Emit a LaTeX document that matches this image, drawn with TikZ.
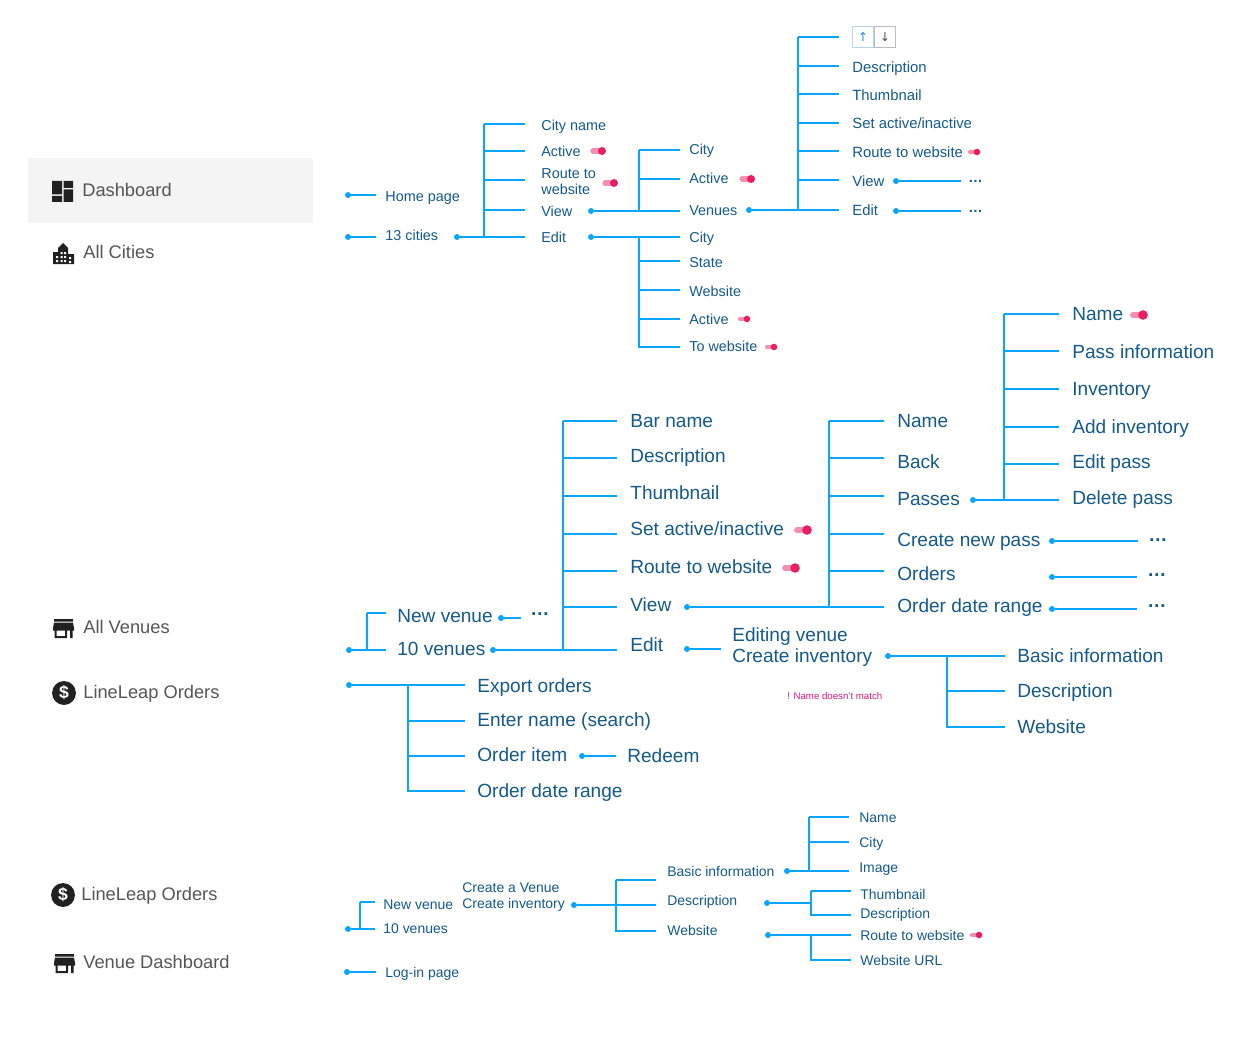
\documentclass[tikz,border=0pt]{standalone}
\usepackage{fontspec}
\setmainfont{Liberation Sans}
\newfontfamily\symfont{DejaVu Sans}
\usetikzlibrary{calc}
\definecolor{MapWire}{HTML}{08A5FC}
\definecolor{MapText}{HTML}{14598A}
\definecolor{MapKnob}{HTML}{E91E63}
\definecolor{MapTrack}{HTML}{F58FB0}
\definecolor{MapNote}{HTML}{D81B7A}
\definecolor{MenuText}{HTML}{555555}
\definecolor{MenuIcon}{HTML}{212121}
\definecolor{MenuPanel}{HTML}{F4F4F4}
\definecolor{BtnBlue}{HTML}{B5D3F2}
\definecolor{BtnGrey}{HTML}{BDBDBD}
\definecolor{BtnArrow}{HTML}{2E8AE6}

\begin{document}
\begin{tikzpicture}[x=0.02cm,y=-0.02cm]
    \tikzset{
      wire/.style={draw=MapWire,line width=0.9pt},
      tie/.style={wire,shorten >=#1*0.02cm},
      linkdot/.style={circle,fill=MapWire,inner sep=0pt,minimum size=3.4pt},
      maptext/.style={anchor=west,inner sep=0pt,text=MapText},
      smalltext/.style={maptext,text height=0.8em,text depth=0.14em,font=\fontsize{8.2}{10}\selectfont},
      toptext/.style={maptext,text height=0.8em,text depth=0.14em,font=\fontsize{8.45}{10}\selectfont},
      lowtext/.style={maptext,text height=0.8em,text depth=0.14em,font=\fontsize{7.95}{10}\selectfont},
      bigtext/.style={maptext,text height=0.9em,text depth=0.12em,font=\fontsize{10.85}{13}\selectfont},
      moresmall/.style={maptext,text height=0.8em,text depth=0.14em,font=\fontsize{8.2}{10}\selectfont\bfseries},
      morebig/.style={maptext,text height=0.9em,text depth=0.12em,font=\fontsize{10.85}{13}\selectfont\bfseries},
      notetext/.style={anchor=west,inner sep=0pt,text=MapNote,font=\fontsize{5.5}{7}\selectfont},
      menutext/.style={anchor=west,inner sep=0pt,text=MenuText,text height=0.85em,text depth=0.11em,font=\fontsize{10.4}{12}\selectfont},
      moneyicon/.style={circle,fill=MenuIcon,text=white,inner sep=0pt,minimum size=13.6pt,font=\fontsize{10}{10}\selectfont\bfseries},
      arrowbtn/.style={anchor=west,rectangle,inner sep=0pt,minimum width=12pt,minimum height=12pt,line width=0.5pt,font=\fontsize{7}{7}\symfont},
      togglebig/.pic={\draw[MapTrack,line width=3.4pt,line cap=round] (-10,0)--(0,0);\fill[MapKnob] (0,0) circle[radius=4.8];},
      togglemid/.pic={\draw[MapTrack,line width=3pt,line cap=round] (-9,0)--(0,0);\fill[MapKnob] (0,0) circle[radius=4];},
      togglesmall/.pic={\draw[MapTrack,line width=2.4pt,line cap=round] (-7,0)--(0,0);\fill[MapKnob] (0,0) circle[radius=3.3];},
      dashpic/.pic={\fill[MenuIcon] (0,0) rectangle (10,13.5) (0,15) rectangle (10,21) (11.5,0) rectangle (21,7) (11.5,8.5) rectangle (21,21);},
      citypic/.pic={\fill[MenuIcon] (0,21) -- (0,9) -- (5,9) -- (5,5) -- (10,0) -- (15,5) -- (15,11) -- (21,11) -- (21,21) -- cycle;
        \fill[white] (3,13) rectangle (5,15) (3,17) rectangle (5,19) (7.5,9) rectangle (9.5,11) (11,9) rectangle (13,11)
          (7.5,13) rectangle (9.5,15) (11,13) rectangle (13,15) (7.5,17) rectangle (9.5,19) (11,17) rectangle (13,19) (16,14) rectangle (18,16) (16,18) rectangle (18,20);},
      storepic/.pic={\fill[MenuIcon] (1,0) rectangle (20,2.5) (1,3.5) -- (20,3.5) -- (21,9) -- (21,11.5) -- (0,11.5) -- (0,9) -- cycle
        (1.5,11.5) rectangle (3.5,19) (3.5,17) rectangle (12,19) (12,11.5) rectangle (14,19) (17,11.5) rectangle (19.5,19);}
    }
    \useasboundingbox (0,0) rectangle (1250,1037);

    \fill[MenuPanel] (28,158) rectangle (313,223);
    \pic at (52,181) {dashpic};
    \node[menutext] (dashboard) at (82,190) {Dashboard};
    \pic at (53,243) {citypic};
    \node[menutext] (allcities) at (83,252) {All Cities};
    \pic at (53,619) {storepic};
    \node[menutext] (allvenues) at (83,627) {All Venues};
    \node[moneyicon] (moneya) at (64,693) {\$};
    \node[menutext] (ordersa) at (83,692) {LineLeap Orders};
    \node[moneyicon] (moneyb) at (63,895) {\$};
    \node[menutext] (ordersb) at (81,894) {LineLeap Orders};
    \pic at (54,954) {storepic};
    \node[menutext] (venuedash) at (83,962) {Venue Dashboard};

    \node[linkdot] (dhome) at (348,195) {};
    \node[smalltext] (home) at (385,196) {Home page};
    \node[linkdot] (dcities) at (348,237) {};
    \node[smalltext] (cities) at (385,235) {13 cities};
    \node[linkdot] (dcitiesr) at (457,237) {};
    \draw[tie=9] (dhome) -- (dhome -| home.west);
    \draw[tie=9] (dcities) -- (dcities -| cities.west);

    \coordinate (busa) at (484,124);
    \node[smalltext] (cityname) at (541,125) {City name};
    \node[smalltext] (activea) at (541,151) {Active};
    \node[smalltext] (routea) at (541,173) {Route to};
    \node[smalltext] (routeb) at (541,189) {website};
    \node[smalltext] (viewa) at (541,211) {View};
    \node[smalltext] (edita) at (541,237) {Edit};
    \pic at (602,151) {togglemid};
    \pic at (614,183) {togglemid};
    \draw[tie=16] (busa) |- ($(cityname.west)+(0,-1)$);
    \draw[tie=16] (busa) |- (activea.west);
    \draw[tie=16] (busa) |- ($(routeb.west)+(0,-9)$);
    \draw[tie=16] (busa) |- ($(viewa.west)+(0,-1)$);
    \draw[wire] (busa) -- (busa |- dcitiesr);
    \draw[tie=16] (dcitiesr) -- (dcitiesr -| edita.west);

    \node[linkdot] (dviewa) at (591,211) {};
    \node[linkdot] (dedita) at (591,237) {};
    \coordinate (busb) at (639,150);
    \node[smalltext] (cityb) at (689,149) {City};
    \node[smalltext] (activeb) at (689,178) {Active};
    \node[smalltext] (venuesa) at (689,210) {Venues};
    \pic at (751,179) {togglemid};
    \draw[tie=9] (busb) |- ($(cityb.west)+(0,1)$);
    \draw[tie=9] (busb) |- ($(activeb.west)+(0,1)$);
    \draw[wire] (busb) -- (busb |- dviewa);
    \draw[tie=9] (dviewa) -- (dviewa -| venuesa.west);

    \coordinate (busc) at (639,237);
    \node[smalltext] (cityc) at (689,237) {City};
    \node[smalltext] (statec) at (689,262) {State};
    \node[smalltext] (sitec) at (689,291) {Website};
    \node[smalltext] (activec) at (689,319) {Active};
    \node[smalltext] (tosite) at (689,346) {To website};
    \pic at (747,319) {togglesmall};
    \pic at (774,347) {togglesmall};
    \draw[tie=9] (dedita) -- (dedita -| cityc.west);
    \draw[tie=9] (busc) |- ($(statec.west)+(0,-1)$);
    \draw[tie=9] (busc) |- ($(sitec.west)+(0,-1)$);
    \draw[tie=9] (busc) |- (activec.west);
    \draw[tie=9] (busc) |- ($(tosite.west)+(0,1)$);

    \node[linkdot] (dvenues) at (749,210) {};
    \coordinate (busd) at (798,37);
    \node[arrowbtn,draw=BtnBlue,text=BtnArrow] (btnup) at (852,37) {↑};
    \node[arrowbtn,draw=BtnGrey,text=MenuText] (btndown) at (btnup.east) {↓};
    \node[toptext] (descd) at (852,67) {Description};
    \node[toptext] (thumbd) at (852,95) {Thumbnail};
    \node[toptext] (setd) at (852,123) {Set active/inactive};
    \node[toptext] (routed) at (852,152) {Route to website};
    \node[toptext] (viewd) at (852,181) {View};
    \node[toptext] (editd) at (852,210) {Edit};
    \pic at (977,152) {togglesmall};
    \draw[tie=0] (busd) -- ($(btnup.west)+(-13,0)$);
    \draw[tie=13] (busd) |- ($(descd.west)+(0,-1)$);
    \draw[tie=13] (busd) |- ($(thumbd.west)+(0,-1)$);
    \draw[tie=13] (busd) |- (setd.west);
    \draw[tie=13] (busd) |- ($(routed.west)+(0,-1)$);
    \draw[tie=13] (busd) |- ($(viewd.west)+(0,-1)$);
    \draw[wire] (busd) -- (busd |- dvenues);
    \draw[tie=13] (dvenues) -- (dvenues -| editd.west);
    \node[linkdot] (dviewd) at (896,181) {};
    \node[linkdot] (deditd) at (896,211) {};
    \node[moresmall] (moreviewd) at (968,177) {…};
    \node[moresmall] (moreeditd) at (968,207) {…};
    \draw[tie=7] (dviewd) -- (dviewd -| moreviewd.west);
    \draw[tie=7] (deditd) -- (deditd -| moreeditd.west);

    \node[linkdot] (dvenuesl) at (349,650) {};
    \coordinate (bracka) at (367,613);
    \node[bigtext] (newvenue) at (397,616) {New venue};
    \node[bigtext] (tenvenues) at (397,649) {10 venues};
    \draw[tie=11] (bracka) -- (bracka -| newvenue.west);
    \draw[wire] (bracka) -- (bracka |- dvenuesl);
    \draw[tie=11] (dvenuesl) -- (dvenuesl -| tenvenues.west);
    \node[linkdot] (dnewvenue) at (501,618) {};
    \node[morebig] (morenew) at (530,609) {…};
    \draw[tie=9] (dnewvenue) -- (dnewvenue -| morenew.west);

    \node[linkdot] (dtenr) at (493,650) {};
    \coordinate (buse) at (563,421);
    \node[bigtext] (barname) at (630,421) {Bar name};
    \node[bigtext] (desce) at (630,456) {Description};
    \node[bigtext] (thumbe) at (630,493) {Thumbnail};
    \node[bigtext] (sete) at (630,529) {Set active/inactive};
    \node[bigtext] (routee) at (630,567) {Route to website};
    \node[bigtext] (viewe) at (630,605) {View};
    \node[bigtext] (edite) at (630,645) {Edit};
    \pic at (807,530) {togglebig};
    \pic at (795,568) {togglebig};
    \draw[tie=13] (buse) |- (barname.west);
    \draw[tie=13] (buse) |- ($(desce.west)+(0,2)$);
    \draw[tie=13] (buse) |- ($(thumbe.west)+(0,3)$);
    \draw[tie=13] (buse) |- ($(sete.west)+(0,5)$);
    \draw[tie=13] (buse) |- ($(routee.west)+(0,4)$);
    \draw[tie=13] (buse) |- ($(viewe.west)+(0,2)$);
    \draw[wire] (buse) -- (buse |- dtenr);
    \draw[tie=13] (dtenr) -- (dtenr -| edite.west);

    \node[linkdot] (dviewe) at (687,607) {};
    \node[linkdot] (dedite) at (687,649) {};
    \coordinate (busf) at (829,421);
    \node[bigtext] (namef) at (897,421) {Name};
    \node[bigtext] (backf) at (897,462) {Back};
    \node[bigtext] (passes) at (897,499) {Passes};
    \node[bigtext] (newpass) at (897,540) {Create new pass};
    \node[bigtext] (ordersf) at (897,574) {Orders};
    \node[bigtext] (rangef) at (897,606) {Order date range};
    \draw[tie=13] (busf) |- (namef.west);
    \draw[tie=13] (busf) |- ($(backf.west)+(0,-4)$);
    \draw[tie=13] (busf) |- ($(passes.west)+(0,-3)$);
    \draw[tie=13] (busf) |- ($(newpass.west)+(0,-6)$);
    \draw[tie=13] (busf) |- ($(ordersf.west)+(0,-3)$);
    \draw[wire] (busf) -- (busf |- dviewe);
    \draw[tie=13] (dviewe) -- (dviewe -| rangef.west);

    \node[linkdot] (dpasses) at (973,500) {};
    \coordinate (busg) at (1004,314);
    \node[bigtext] (nameg) at (1072,314) {Name};
    \node[bigtext] (passinfo) at (1072,352) {Pass information};
    \node[bigtext] (inventory) at (1072,389) {Inventory};
    \node[bigtext] (addinv) at (1072,427) {Add inventory};
    \node[bigtext] (editpass) at (1072,462) {Edit pass};
    \node[bigtext] (delpass) at (1072,498) {Delete pass};
    \pic at (1143,315) {togglebig};
    \draw[tie=13] (busg) |- (nameg.west);
    \draw[tie=13] (busg) |- ($(passinfo.west)+(0,-1)$);
    \draw[tie=13] (busg) |- (inventory.west);
    \draw[tie=13] (busg) |- (addinv.west);
    \draw[tie=13] (busg) |- ($(editpass.west)+(0,2)$);
    \draw[wire] (busg) -- (busg |- dpasses);
    \draw[tie=13] (dpasses) -- (dpasses -| delpass.west);

    \node[linkdot] (dnewpass) at (1052,541) {};
    \node[linkdot] (dorders) at (1052,577) {};
    \node[linkdot] (drange) at (1052,609) {};
    \node[morebig] (morepass) at (1148,535) {…};
    \node[morebig] (moreorders) at (1147,570) {…};
    \node[morebig] (morerange) at (1147,601) {…};
    \draw[tie=10] (dnewpass) -- (dnewpass -| morepass.west);
    \draw[tie=10] (dorders) -- (dorders -| moreorders.west);
    \draw[tie=10] (drange) -- (drange -| morerange.west);

    \node[bigtext] (editvenue) at (732,635) {Editing venue};
    \node[bigtext] (createinv) at (732,656) {Create inventory};
    \draw[tie=11] (dedite) -- (dedite -| editvenue.west);
    \node[linkdot] (dcreate) at (888,656) {};
    \coordinate (bush) at (947,656);
    \node[bigtext] (basich) at (1017,656) {Basic information};
    \node[bigtext] (desch) at (1017,691) {Description};
    \node[bigtext] (siteh) at (1017,727) {Website};
    \draw[tie=12] (dcreate) -- (dcreate -| basich.west);
    \draw[tie=12] (bush) |- (desch.west);
    \draw[tie=12] (bush) |- (siteh.west);
    \node[notetext] (namenote) at (787,696) {! Name doesn't match};

    \node[linkdot] (dexport) at (349,685) {};
    \coordinate (busi) at (408,685);
    \node[bigtext] (export) at (477,686) {Export orders};
    \node[bigtext] (search) at (477,720) {Enter name (search)};
    \node[bigtext] (orderitem) at (477,755) {Order item};
    \node[bigtext] (rangei) at (477,791) {Order date range};
    \draw[tie=12] (dexport) -- (dexport -| export.west);
    \draw[tie=12] (busi) |- ($(search.west)+(0,1)$);
    \draw[tie=12] (busi) |- ($(orderitem.west)+(0,1)$);
    \draw[tie=12] (busi) |- (rangei.west);
    \node[linkdot] (ditem) at (582,756) {};
    \node[bigtext] (redeem) at (627,756) {Redeem};
    \draw[tie=11] (ditem) -- (ditem -| redeem.west);

    \node[linkdot] (dtenb) at (348,929) {};
    \coordinate (brackb) at (360,902);
    \node[lowtext] (newvenueb) at (383,904) {New venue};
    \node[lowtext] (tenb) at (383,928) {10 venues};
    \draw[tie=8] (brackb) -- (brackb -| newvenueb.west);
    \draw[wire] (brackb) -- (brackb |- dtenb);
    \draw[tie=8] (dtenb) -- (dtenb -| tenb.west);
    \node[lowtext] (createb) at (462,887) {Create a Venue};
    \node[lowtext] (createinvb) at (462,903) {Create inventory};

    \node[linkdot] (dcreateb) at (574,905) {};
    \coordinate (busj) at (616,880);
    \node[lowtext] (basicj) at (667,871) {Basic information};
    \node[lowtext] (descj) at (667,900) {Description};
    \node[lowtext] (sitej) at (667,930) {Website};
    \draw[tie=11] (busj) |- ($(basicj.west)+(0,9)$);
    \draw[tie=11] (dcreateb) -- (dcreateb -| descj.west);
    \draw[tie=11] (busj) |- ($(sitej.west)+(0,1)$);

    \node[linkdot] (dbasic) at (787,871) {};
    \coordinate (busk) at (809,817);
    \node[lowtext] (namek) at (859,817) {Name};
    \node[lowtext] (cityk) at (859,842) {City};
    \node[lowtext] (imagek) at (859,867) {Image};
    \draw[tie=10] (busk) |- (namek.west);
    \draw[tie=10] (busk) |- (cityk.west);
    \draw[wire] (busk) -- (busk |- dbasic);
    \draw[tie=10] (dbasic) -- (dbasic -| imagek.west);

    \node[linkdot] (ddesc) at (767,903) {};
    \coordinate (busl) at (811,891);
    \node[lowtext] (thumbl) at (860,894) {Thumbnail};
    \node[lowtext] (descl) at (860,913) {Description};
    \draw[wire] (ddesc) -- (ddesc -| busl);
    \draw[tie=9] (busl) |- ($(thumbl.west)+(0,-3)$);
    \draw[tie=9] (busl) |- ($(descl.west)+(0,2)$);

    \node[linkdot] (dsite) at (768,935) {};
    \coordinate (busm) at (811,935);
    \node[lowtext] (routem) at (860,935) {Route to website};
    \node[lowtext] (urlm) at (860,960) {Website URL};
    \pic at (979,935) {togglesmall};
    \draw[tie=9] (dsite) -- (dsite -| routem.west);
    \draw[tie=9] (busm) |- (urlm.west);

    \node[linkdot] (dlogin) at (347,972) {};
    \node[lowtext] (login) at (385,972) {Log-in page};
    \draw[tie=9] (dlogin) -- (dlogin -| login.west);
  \end{tikzpicture}
\end{document}
